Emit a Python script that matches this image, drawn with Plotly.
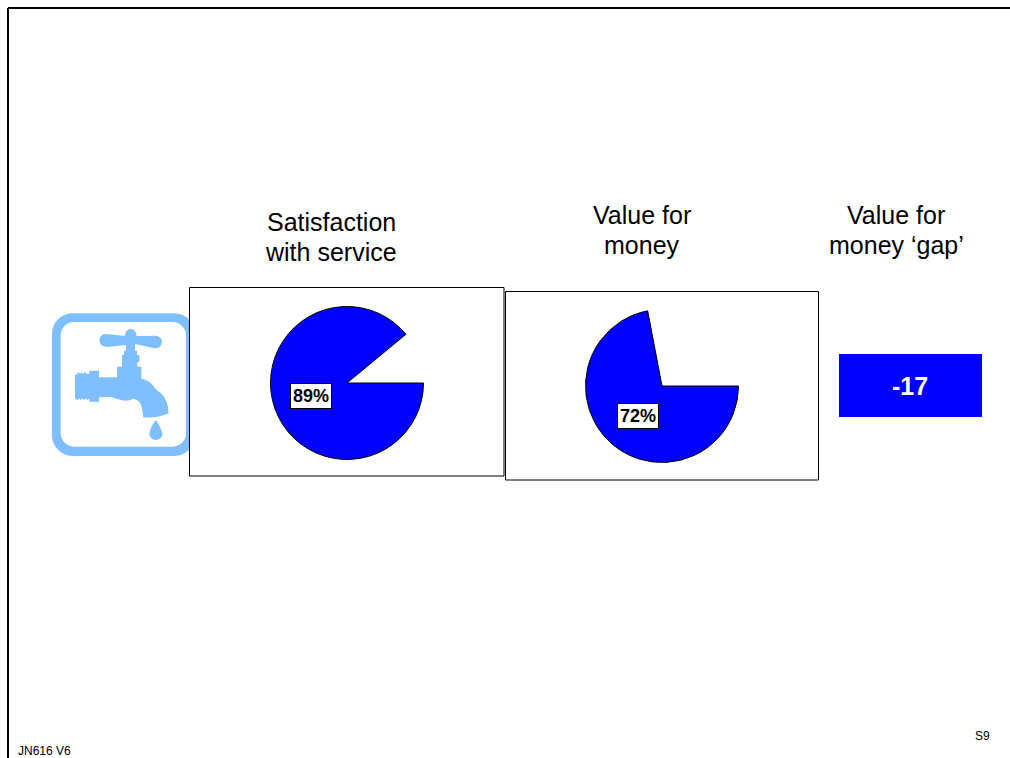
import plotly.graph_objects as go

# Survey results
panel_titles = [
    ["Satisfaction", "with service"],
    ["Value for", "money"],
    ["Value for", "money ‘gap’"],
]
pie_values = [89, 72]
gap_value = -17
footer_left = "JN616 V6"
footer_right = "S9"

BLUE = "#0000FF"
ICON = "#80BFFF"
W, H = 1010, 758


def px(x):
    return x / W


def py(y):
    return 1 - y / H


def box(x0, y0, x1, y1, **style):
    return dict(type="rect", xref="paper", yref="paper", x0=px(x0), x1=px(x1),
                y0=py(y1), y1=py(y0), layer="below", **style)


def rule(x0, y0, x1, y1):
    return dict(type="line", xref="paper", yref="paper", x0=px(x0), x1=px(x1),
                y0=py(y0), y1=py(y1), layer="below", line=dict(color="black", width=2))


def icon_path(commands):
    """Build a filled tap-icon path from commands in a 3x local grid."""
    parts = []
    for cmd in commands:
        parts.append(cmd[0])
        for a, b in cmd[1]:
            parts.append(f"{px(40 + a / 3):.5f},{py(300 + b / 3):.5f}")
    parts.append("Z")
    return dict(type="path", xref="paper", yref="paper", path=" ".join(parts),
                fillcolor=ICON, line=dict(width=0), layer="below")


def rounded(x0, y0, x1, y1, r):
    """Rounded rectangle commands, with cubic corners close to circular arcs."""
    k = r * 0.45
    return [
        ("M", [(x0 + r, y0)]), ("L", [(x1 - r, y0)]),
        ("C", [(x1 - k, y0), (x1, y0 + k), (x1, y0 + r)]),
        ("L", [(x1, y1 - r)]),
        ("C", [(x1, y1 - k), (x1 - k, y1), (x1 - r, y1)]),
        ("L", [(x0 + r, y1)]),
        ("C", [(x0 + k, y1), (x0, y1 - k), (x0, y1 - r)]),
        ("L", [(x0, y0 + r)]),
        ("C", [(x0, y0 + k), (x0 + k, y0), (x0 + r, y0)]),
    ]


tap_body = [
    ("M", [(197, 102)]), ("L", [(254, 108)]), ("Q", [(257, 87), (272, 87)]),
    ("Q", [(287, 87), (290, 108)]), ("L", [(347, 107)]), ("Q", [(366, 109), (366, 126)]),
    ("Q", [(363, 146), (344, 145)]), ("L", [(288, 133)]), ("L", [(285, 133)]),
    ("L", [(285, 152)]), ("L", [(291, 152)]), ("L", [(291, 165)]), ("L", [(298, 165)]),
    ("L", [(298, 186)]), ("L", [(292, 186)]), ("L", [(292, 200)]), ("L", [(304, 200)]),
    ("L", [(304, 236)]), ("Q", [(328, 240), (340, 258)]), ("Q", [(350, 272), (365, 282)]),
    ("Q", [(384, 300), (386, 340)]), ("Q", [(350, 356), (310, 352)]),
    ("L", [(305, 320)]), ("Q", [(298, 296), (278, 297)]), ("Q", [(262, 306), (240, 299)]),
    ("L", [(212, 291)]), ("L", [(177, 292)]), ("L", [(177, 305)]), ("L", [(148, 305)]),
    ("L", [(148, 295)]), ("L", [(142, 301)]), ("L", [(138, 295)]), ("L", [(132, 301)]),
    ("L", [(128, 295)]), ("L", [(122, 301)]), ("L", [(118, 295)]), ("L", [(112, 301)]),
    ("L", [(105, 295)]), ("L", [(105, 225)]), ("L", [(112, 222)]), ("L", [(116, 216)]),
    ("L", [(120, 222)]), ("L", [(125, 216)]), ("L", [(130, 222)]), ("L", [(135, 216)]),
    ("L", [(140, 222)]), ("L", [(148, 222)]), ("L", [(148, 212)]), ("L", [(177, 212)]),
    ("L", [(177, 232)]), ("L", [(231, 232)]), ("L", [(231, 200)]), ("L", [(246, 200)]),
    ("L", [(246, 165)]), ("L", [(252, 165)]), ("L", [(252, 152)]), ("L", [(258, 152)]),
    ("L", [(258, 135)]), ("L", [(200, 141)]), ("Q", [(179, 139), (178, 121)]),
    ("Q", [(179, 103), (197, 102)]),
]

tap_drop = [
    ("M", [(347, 360)]), ("Q", [(330, 384), (328, 400)]), ("Q", [(330, 420), (347, 420)]),
    ("Q", [(367, 419), (367, 400)]), ("Q", [(364, 384), (347, 360)]),
]

# Outer rounded tile, its white interior, then the tap on top
inner_shape = icon_path(rounded(62, 66, 438, 440, 40))
inner_shape["fillcolor"] = "white"

shapes = [
    icon_path(rounded(36, 40, 465, 468, 62)), inner_shape,
    icon_path(tap_body), icon_path(tap_drop),
    box(189.5, 287.5, 504, 476, fillcolor="white", line=dict(color="black", width=1)),
    box(505.5, 291.5, 818.5, 480, fillcolor="white", line=dict(color="black", width=1)),
    box(839, 354, 982, 417, fillcolor=BLUE, line=dict(width=0)),
    rule(8, 8, 8, H),
    rule(8, 8, W, 8),
]

fig = go.Figure()

# Each pie starts at three o'clock; the remainder slice stays unfilled and unlined
pie_centres = [(347, 383), (662, 386)]
R = 76.5
for value, (cx, cy) in zip(pie_values, pie_centres):
    fig.add_trace(go.Pie(
        values=[value, 100 - value],
        sort=False,
        direction="clockwise",
        rotation=90,
        textinfo="none",
        hoverinfo="skip",
        showlegend=False,
        marker=dict(colors=[BLUE, "rgba(0,0,0,0)"],
                    line=dict(color=["black", "rgba(0,0,0,0)"], width=[1, 0])),
        domain=dict(x=[px(cx - R), px(cx + R)], y=[py(cy + R), py(cy - R)]),
    ))


def note(text, x, y, size, color="black", **extra):
    return dict(text=text, x=px(x), y=py(y), xref="paper", yref="paper",
                xanchor="center", yanchor="middle", showarrow=False,
                font=dict(family="Liberation Sans, Arial, sans-serif", size=size, color=color),
                **extra)


label_positions = [(311, 396), (638, 416)]
title_anchors = [(331, 222), (642, 215), (896, 215)]
LINE_PITCH = 30

annotations = [
    note(f"<b>{gap_value}</b>", 910, 386, 25, color="white"),
    note(footer_left, 44.5, 751, 12),
    note(footer_right, 982, 736, 12),
]
for lines, (x, y) in zip(panel_titles, title_anchors):
    for i, line in enumerate(lines):
        annotations.append(note(line, x, y + i * LINE_PITCH, 25))
for value, (x, y) in zip(pie_values, label_positions):
    annotations.append(note(f"<b>{value}%</b>", x, y, 18, bgcolor="white",
                            bordercolor="black", borderwidth=1, borderpad=2))

fig.update_layout(
    width=W, height=H,
    margin=dict(l=0, r=0, t=0, b=0),
    paper_bgcolor="white",
    plot_bgcolor="white",
    shapes=shapes,
    annotations=annotations,
)

fig.write_html("out.html", config=dict(displayModeBar=False))
